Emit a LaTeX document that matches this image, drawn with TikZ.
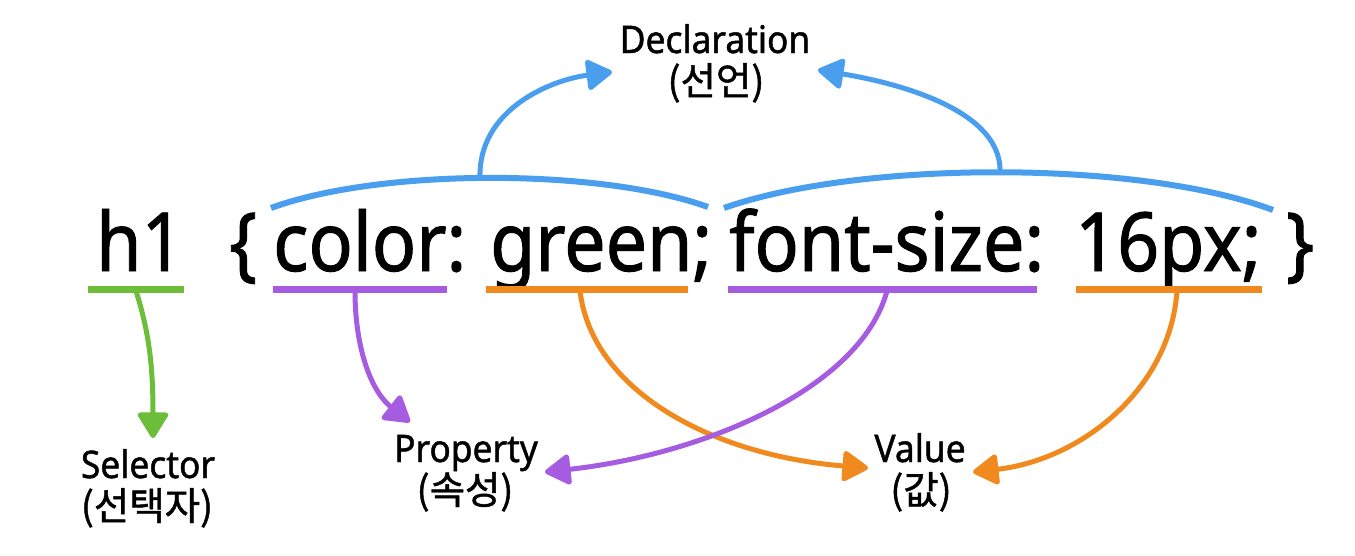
\documentclass[tikz,border=0pt]{standalone}
\usepackage{fontspec}
\usetikzlibrary{arrows.meta}
\newfontfamily\mainf[FakeStretch=0.9,FakeBold=1.2]{Noto Sans}
\newfontfamily\labf[FakeStretch=0.93,FakeBold=1.2]{Noto Sans}
\newfontfamily\krf[FakeBold=1.2]{Noto Sans CJK KR}
\definecolor{cgreen}{RGB}{108,189,58}
\definecolor{cpurple}{RGB}{166,92,224}
\definecolor{corange}{RGB}{240,138,30}
\definecolor{cblue}{RGB}{74,158,238}
\tikzset{
  code/.style={inner sep=0pt, anchor=base west, font=\mainf\fontsize{81.6pt}{98pt}\selectfont},
  lab/.style={inner sep=0pt, anchor=base, font=\labf\fontsize{38pt}{44pt}\selectfont},
  labkr/.style={inner sep=0pt, anchor=base, font=\krf\fontsize{38.5pt}{44pt}\selectfont},
  uline/.style={line width=7pt},
  bracket/.style={line width=6pt, cblue},
  conn/.style={line width=5pt, -{Triangle[length=28pt,width=33pt,round]}},
}
\begin{document}
\begin{tikzpicture}[x=1pt,y=-1pt]
\useasboundingbox[fill=white] (0,0) rectangle (1355,555);
% code text
\node[code] (h1) at (96,271) {h1};
\node[code] (lbrace) at (229,271) {\{};
\node[code] (color) at (273,271) {color:};
\node[code] (green) at (490,271) {green;};
\node[code] (fontsize) at (729,271) {font-size:};
\node[code] (px16) at (1075,271) {16px;};
\node[code] (rbrace) at (1286,271) {\}};
% labels
\node[lab] (decl) at (715,53) {Declaration};
\node[labkr] (declk) at (716,95) {(선언)};
\node[lab] (sel) at (148,478) {Selector};
\node[labkr] (selk) at (147,520) {(선택자)};
\node[lab] (prop) at (466,462) {Property};
\node[labkr] (propk) at (465,504) {(속성)};
\node[lab] (val) at (920,462) {Value};
\node[labkr] (valk) at (921,504) {(값)};
% underlines
\coordinate (g1) at (88,289);   \coordinate (g2) at (184,289);
\coordinate (p1) at (273,289);  \coordinate (p2) at (447,289);
\coordinate (o1) at (486,289);  \coordinate (o2) at (688,289);
\coordinate (q1) at (728,289);  \coordinate (q2) at (1037,289);
\coordinate (r1) at (1076,289); \coordinate (r2) at (1262,289);
\draw[uline,cgreen] (g1) -- (g2);
\draw[uline,cpurple] (p1) -- (p2);
\draw[uline,corange] (o1) -- (o2);
\draw[uline,cpurple] (q1) -- (q2);
\draw[uline,corange] (r1) -- (r2);
% stems start points
\coordinate (gs) at (136,291);
\coordinate (ps) at (355,291);
\coordinate (os) at (580,291);
\coordinate (qs) at (887,291);
\coordinate (rs) at (1177,291);
% tips
\coordinate (gt) at (153,438);
\coordinate (pt) at (410,422);
\coordinate (ot) at (868,468);
\coordinate (qt) at (545,472);
\coordinate (rt) at (973,472);
\draw[conn,cgreen] (gs) .. controls (150,335) and (153,370) .. (gt);
\draw[conn,cpurple] (ps) .. controls (355,350) and (372,392) .. (pt);
\draw[conn,corange] (os) .. controls (592,390) and (710,455) .. (ot);
\draw[conn,cpurple] (qs) .. controls (860,390) and (700,455) .. (qt);
\draw[conn,corange] (rs) .. controls (1170,390) and (1080,460) .. (rt);
% declaration brackets
\coordinate (b1) at (271,208); \coordinate (b2) at (708,207);
\coordinate (b3) at (724,208); \coordinate (b4) at (1273,210);
\coordinate (bl) at (480,178); \coordinate (br) at (1000,172);
\draw[bracket] (b1) .. controls (380,168) and (600,168) .. (b2);
\draw[bracket] (b3) .. controls (860,160) and (1140,160) .. (b4);
\coordinate (blt) at (612,72);
\coordinate (brt) at (818,70);
\draw[conn,cblue] (bl) .. controls (478,110) and (550,80) .. (blt);
\draw[conn,cblue] (br) .. controls (1002,105) and (880,80) .. (brt);
\end{tikzpicture}
\end{document}
